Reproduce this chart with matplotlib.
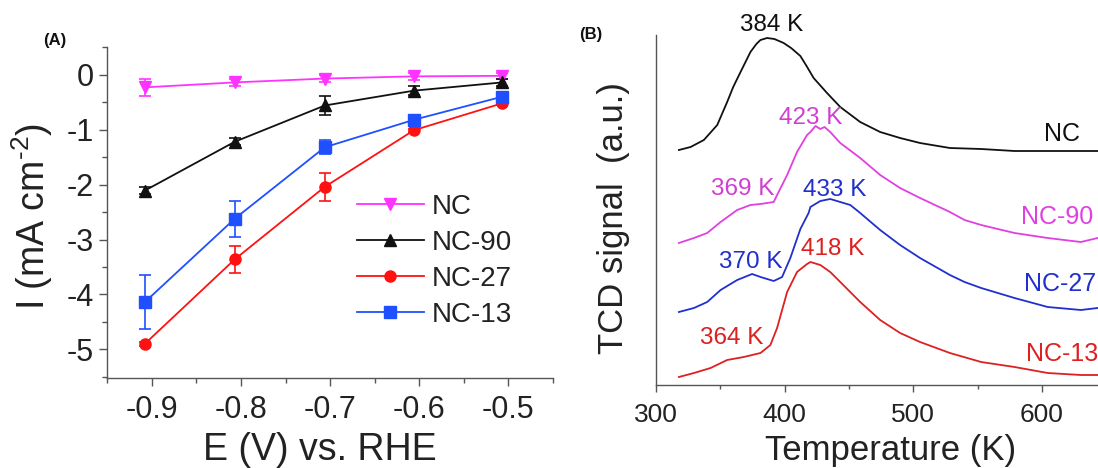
import matplotlib
matplotlib.use("Agg")
import matplotlib.pyplot as plt
from matplotlib.ticker import MultipleLocator

plt.rcParams['font.family'] = ['Liberation Sans', 'DejaVu Sans']
plt.rcParams['axes.unicode_minus'] = False
plt.rcParams['mathtext.fontset'] = 'custom'
plt.rcParams['mathtext.rm'] = 'Liberation Sans'
plt.rcParams['mathtext.it'] = 'Liberation Sans:italic'
plt.rcParams['mathtext.bf'] = 'Liberation Sans:bold'

# ---------------- Panel A data ----------------
potential = [-0.908, -0.807, -0.706, -0.606, -0.507]
labels_a = ["NC", "NC-90", "NC-27", "NC-13"]
i_nc = [-0.23, -0.14, -0.07, -0.03, -0.02]
i_nc90 = [-2.11, -1.22, -0.56, -0.29, -0.14]
i_nc27 = [-4.90, -3.36, -2.04, -1.01, -0.52]
i_nc13 = [-4.14, -2.62, -1.32, -0.82, -0.40]
err_nc = [0.15, 0.06, 0.07, 0.07, 0.05]
err_nc90 = [0.06, 0.06, 0.18, 0.08, 0.06]
err_nc27 = [0.03, 0.24, 0.26, 0.03, 0.03]
err_nc13 = [0.49, 0.33, 0.13, 0.05, 0.04]
xticks_a = [-0.9, -0.8, -0.7, -0.6, -0.5]
yticks_a = [0, -1, -2, -3, -4, -5]

# ---------------- Panel B data ----------------
temp_nc = [317.8, 326.9, 337.2, 347.6, 355.3, 360.0, 365.7, 373.4, 378.0, 381.2, 386.3,
           392.0, 399.2, 405.0, 412.2, 417.0, 422.5, 432.9, 443.2, 458.7, 474.2,
           489.7, 505.2, 528.4, 552.7, 578.6, 604.4, 643.2]
sig_nc = [235, 238, 245, 260, 283, 298, 313, 333, 341, 345, 347,
          346, 342, 337, 329, 319, 307, 292, 278, 263, 253,
          247, 242, 237, 236, 234, 234, 234]

temp_nc90 = [317.8, 329.5, 339.8, 350.2, 363.1, 373.4, 381.2, 391.5, 394.1, 401.9,
             409.6, 417.4, 420.0, 424.0, 427.7, 431.0, 435.4, 443.2, 458.7, 474.2,
             489.7, 505.2, 528.4, 539.8, 552.7, 578.6, 604.4, 630.2, 643.2]
sig_nc90 = [142, 147, 152, 163, 175, 180, 181, 183, 190, 210,
            233, 250, 253, 259, 256, 258, 253, 242, 227, 210,
            197, 187, 173, 165, 160, 152, 147, 143, 147]

temp_nc27 = [317.8, 329.5, 339.8, 350.2, 363.1, 374.7, 381.2, 391.5, 398.0, 404.4,
             412.2, 418.6, 420.0, 427.7, 435.4, 443.2, 451.0, 458.7, 474.2, 489.7,
             505.2, 528.4, 539.8, 552.7, 578.6, 604.4, 630.2, 643.2]
sig_nc27 = [73, 77, 83, 95, 105, 111, 108, 104, 108, 127,
            156, 172, 178, 184, 186, 183, 180, 172, 155, 140,
            127, 110, 103, 97, 87, 78, 75, 77]

temp_nc13 = [317.8, 329.5, 342.4, 355.3, 368.2, 381.2, 388.9, 394.1, 401.9, 409.6,
             417.4, 420.0, 427.7, 435.4, 443.2, 458.7, 474.2, 489.7, 505.2, 528.4,
             552.7, 578.6, 604.4, 630.2, 643.2]
sig_nc13 = [8, 12, 17, 25, 28, 32, 40, 57, 93, 113,
            121, 123, 120, 113, 103, 83, 65, 52, 43, 32,
            23, 18, 12, 10, 10]

peak_labels = ["384 K", "423 K", "369 K", "433 K", "370 K", "418 K", "364 K"]
peak_temp = [390.2, 419.9, 367.6, 438.5, 373.4, 437.0, 358.7]
peak_sig = [360, 267, 196, 195, 123, 136, 47]
curve_labels = ["NC", "NC-90", "NC-27", "NC-13"]
curve_label_temp = [601.9, 583.7, 586.3, 587.4]
curve_label_sig = [251, 168, 101, 31]
xticks_b = [300, 400, 500, 600]

# ---------------- Figure ----------------
W, H = 1098, 468
fig = plt.figure(figsize=(W / 100, H / 100), dpi=100)

def box(l, t, r, b):
    return [l / W, 1 - b / H, (r - l) / W, (b - t) / H]

spine_col = '#555555'

# Panel A
axA = fig.add_axes(box(107.3, 46.7, 553, 378))
c_nc, c_90, c_27, c_13 = '#ff33ff', '#111111', '#ff1111', '#1f4fff'
series = [(i_nc, err_nc, c_nc, 'v'), (i_nc90, err_nc90, c_90, '^'),
          (i_nc27, err_nc27, c_27, 'o'), (i_nc13, err_nc13, c_13, 's')]
handles = []
for (yv, ev, col, mk), lab in zip(series, labels_a):
    h = axA.errorbar(potential, yv, yerr=ev, color=col, marker=mk, markersize=8,
                     lw=1.3, elinewidth=1.2, capsize=4, capthick=1.2, label=lab)
    handles.append(h[0])
axA.set_xlim(-0.95, -0.45)
axA.set_ylim(-5.52, 0.51)
axA.set_xticks(xticks_a)
axA.set_xticklabels(["%.1f" % v for v in xticks_a])
axA.set_yticks(yticks_a)
axA.set_yticklabels(["%d" % v for v in yticks_a])
axA.xaxis.set_minor_locator(MultipleLocator(0.05))
axA.yaxis.set_minor_locator(MultipleLocator(0.5))
for s in ['top', 'right']:
    axA.spines[s].set_visible(False)
for s in ['left', 'bottom']:
    axA.spines[s].set_color(spine_col)
    axA.spines[s].set_linewidth(1.0)
axA.tick_params(axis='both', which='major', direction='out', length=6, width=1.0,
                color=spine_col, labelsize=22, labelcolor='#222222', pad=4)
axA.tick_params(axis='both', which='minor', direction='out', length=3.5, width=1.0,
                color=spine_col)
axA.tick_params(axis='x', which='major', pad=6)
leg = axA.legend(handles=handles, labels=labels_a, loc='upper left',
                 bbox_to_anchor=((357 - 107.3) / (553 - 107.3), 1 - (194 - 46.7) / (378 - 46.7)),
                 frameon=False, fontsize=20, handlelength=2.4, handletextpad=0.3,
                 labelspacing=0.36, borderaxespad=0, borderpad=0)
for t in leg.get_texts():
    t.set_color('#222222')

fig.text(320 / W, 1 - 460 / H, "E (V) vs. RHE", fontsize=27, ha='center', va='baseline',
         color='#222222')
fig.text(32 / W, 1 - 217 / H, r"I (mA cm$^{\text{-2}}$)", fontsize=27, rotation=90,
         ha='center', va='center', color='#222222')
fig.text(55 / W, 1 - 40 / H, "(A)", fontsize=12, fontweight='bold', ha='center',
         va='center', color='#111111')

# Panel B
axB = fig.add_axes(box(656.0, 35, 1098, 385))
b_nc, b_90, b_27, b_13 = '#111111', '#e040e0', '#2030cc', '#dd2020'
axB.plot(temp_nc, sig_nc, color=b_nc, lw=1.3)
axB.plot(temp_nc90, sig_nc90, color=b_90, lw=1.3)
axB.plot(temp_nc27, sig_nc27, color=b_27, lw=1.3)
axB.plot(temp_nc13, sig_nc13, color=b_13, lw=1.3)
axB.set_xlim(300, 643.5)
axB.set_ylim(0, 350)
axB.set_xticks(xticks_b)
axB.set_xticklabels([str(v) for v in xticks_b])
axB.xaxis.set_minor_locator(MultipleLocator(50))
axB.set_yticks([])
for s in ['top', 'right']:
    axB.spines[s].set_visible(False)
for s in ['left', 'bottom']:
    axB.spines[s].set_color(spine_col)
    axB.spines[s].set_linewidth(1.0)
axB.tick_params(axis='x', which='major', direction='out', length=5, width=1.0,
                color=spine_col, labelsize=19, labelcolor='#222222', pad=8)
axB.tick_params(axis='x', which='minor', direction='out', length=3, width=1.0,
                color=spine_col)

peak_cols = ['#111111', '#d040d0', '#d040d0', '#2030cc', '#2030cc', '#dd2020', '#dd2020']
for lab, tx, sy, col in zip(peak_labels, peak_temp, peak_sig, peak_cols):
    axB.text(tx, sy, lab, color=col, fontsize=17.5, ha='center', va='center',
             clip_on=False)
curve_cols = [b_nc, b_90, b_27, b_13]
for lab, tx, sy, col in zip(curve_labels, curve_label_temp, curve_label_sig, curve_cols):
    axB.text(tx, sy, lab, color=col, fontsize=18, ha='left', va='center', clip_on=False)

fig.text(891 / W, 1 - 460 / H, "Temperature (K)", fontsize=25, ha='center',
         va='baseline', color='#222222')
fig.text(613 / W, 1 - 218 / H, "TCD signal  (a.u.)", fontsize=25, rotation=90,
         ha='center', va='center', color='#222222')
fig.text(591 / W, 1 - 34 / H, "(B)", fontsize=12, fontweight='bold', ha='center',
         va='center', color='#111111')

fig.savefig("out.png", dpi=100)
